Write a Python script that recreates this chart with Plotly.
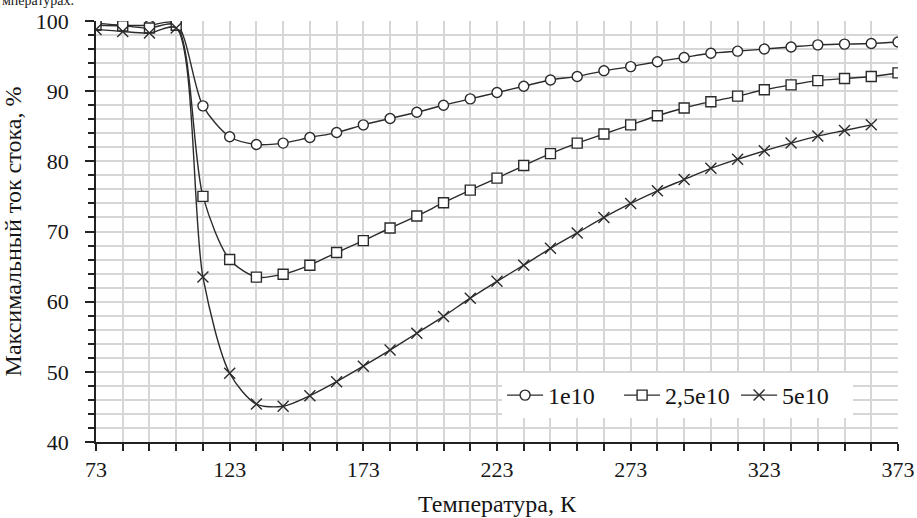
import plotly.graph_objects as go

temps = [73, 83, 93, 103, 113, 123, 133, 143, 153, 163, 173, 183, 193, 203, 213, 223,
         233, 243, 253, 263, 273, 283, 293, 303, 313, 323, 333, 343, 353, 363, 373]

s1_name = "1e10"
s1 = [99.7, 99.4, 99.4, 99.7, 87.9, 83.5, 82.4, 82.6, 83.4, 84.1, 85.2, 86.1, 87.0, 88.0,
      88.9, 89.8, 90.7, 91.6, 92.1, 92.9, 93.5, 94.2, 94.8, 95.4, 95.7, 96.0, 96.3, 96.6,
      96.7, 96.8, 97.0]

s2_name = "2,5e10"
s2 = [99.4, 99.3, 99.0, 99.4, 75.0, 66.0, 63.5, 63.9, 65.2, 67.0, 68.7, 70.5, 72.2, 74.1,
      75.9, 77.6, 79.4, 81.1, 82.6, 83.9, 85.2, 86.5, 87.6, 88.5, 89.3, 90.2, 90.9, 91.5,
      91.8, 92.1, 92.6]

s3_name = "5e10"
s3 = [98.8, 98.5, 98.3, 99.0, 63.5, 49.8, 45.4, 45.1, 46.6, 48.6, 50.8, 53.1, 55.5, 57.9,
      60.5, 62.9, 65.2, 67.6, 69.8, 72.0, 74.0, 75.8, 77.4, 79.0, 80.3, 81.5, 82.6, 83.6,
      84.4, 85.2]

x_title = "Температура, К"
y_title = "Максимальный ток стока, %"
top_text = "мпературах."

FONT = "Liberation Serif"
LINE = "#2b2b2b"
GRID = "#d6d6d6"
TXT = "#161616"

fig = go.Figure()
series = [
    (s1_name, s1, "circle", 10),
    (s2_name, s2, "square", 10),
    (s3_name, s3, "x-thin", 11),
]
for name, vals, sym, size in series:
    fig.add_trace(go.Scatter(
        x=temps[:len(vals)], y=vals, name=name, mode="lines+markers",
        line=dict(color=LINE, width=1.4, shape="spline", smoothing=0.8),
        marker=dict(symbol=sym, size=size, color="white",
                    line=dict(color=LINE, width=1.4)),
    ))

fig.update_layout(
    width=917, height=518,
    margin=dict(l=96, r=19, t=21, b=76, autoexpand=False),
    paper_bgcolor="white", plot_bgcolor="white",
    font=dict(family=FONT, size=22, color=TXT),
    showlegend=True,
    legend=dict(orientation="h", x=0.944, xanchor="right", y=0.057, yanchor="bottom",
                bgcolor="white", font=dict(family=FONT, size=24, color=TXT),
                itemwidth=36, borderwidth=0, entrywidth=66, entrywidthmode="pixels"),
    annotations=[dict(text=top_text, xref="paper", yref="paper", x=-0.1197, y=1.0262,
                      xanchor="left", yanchor="bottom", showarrow=False,
                      font=dict(family=FONT, size=14, color=TXT))],
)
fig.update_xaxes(
    range=[73, 373], tick0=73, dtick=50, showgrid=True, gridcolor=GRID, gridwidth=1.5,
    showline=True, linecolor="#222", linewidth=1.5, ticks="outside", ticklen=7,
    tickcolor="#222", tickwidth=1.5, zeroline=False, automargin=False,
    minor=dict(tick0=73, dtick=10, showgrid=True, gridcolor=GRID, gridwidth=1.5,
               ticks="outside", ticklen=7, tickcolor="#222", tickwidth=1.5),
    title=dict(text=x_title, font=dict(family=FONT, size=24), standoff=14),
    tickfont=dict(family=FONT, size=22),
    ticklabelstandoff=0,
)
fig.update_yaxes(
    range=[40, 100], dtick=10, showgrid=True, gridcolor=GRID, gridwidth=1.5,
    showline=True, linecolor="#222", linewidth=1.5, ticks="outside", ticklen=9,
    tickcolor="#222", tickwidth=1.5, zeroline=False, automargin=False,
    minor=dict(dtick=2, showgrid=True, gridcolor=GRID, gridwidth=1.5,
               ticks="outside", ticklen=6, tickcolor="#222", tickwidth=1.5),
    title=dict(text=y_title, font=dict(family=FONT, size=24), standoff=8),
    tickfont=dict(family=FONT, size=22),
    ticklabelstandoff=12,
)

fig.write_html("out.html", config={"displayModeBar": False},
               post_script="document.body.style.margin='0';")
